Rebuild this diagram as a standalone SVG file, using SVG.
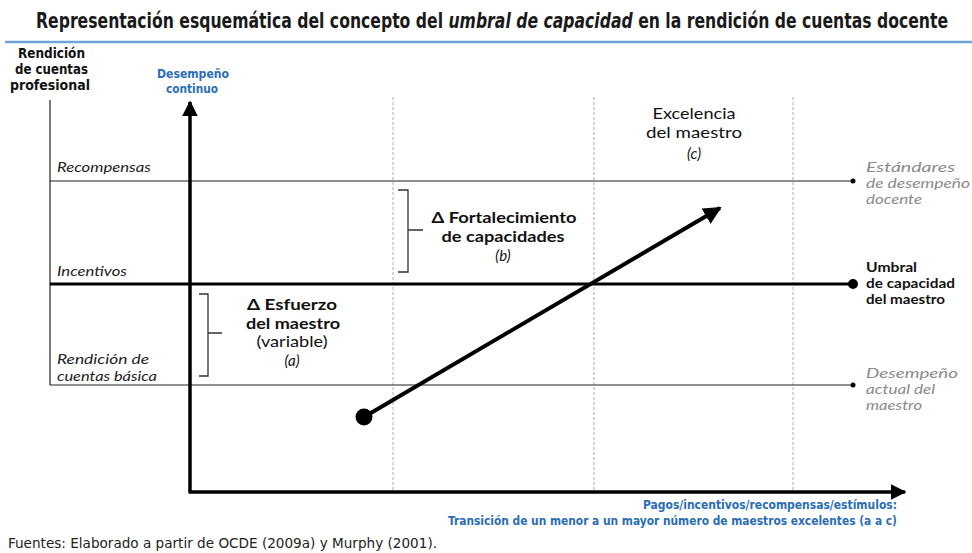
<svg xmlns="http://www.w3.org/2000/svg" width="972" height="553" viewBox="0 0 972 553">
<defs>
<style>
.cond{font-family:"Liberation Sans Narrow","DejaVu Sans Condensed","Liberation Sans",sans-serif;}
.hum{font-family:Lato,"Open Sans","DejaVu Sans",sans-serif;}
.title{font-size:21px;font-weight:bold;fill:#1a1a1a;}
.lbl{font-size:13.5px;font-weight:bold;fill:#111;}
.blue{font-size:12px;fill:#2a6db5;font-weight:bold;}
.itl{font-size:14px;font-style:italic;fill:#222;}
.gray{font-size:14px;font-style:italic;fill:#8a8a8a;}
.mid{font-size:15px;fill:#111;text-anchor:middle;}
.thin{stroke:#222;stroke-width:1.2;fill:none;}
.thick{stroke:#000;stroke-width:3.5;fill:none;}
.dash{stroke:#aaa;stroke-width:1;stroke-dasharray:3,2;fill:none;}
.brk{stroke:#333;stroke-width:1.3;fill:none;}
</style>
<marker id="ah" viewBox="0 0 10 10" refX="9" refY="5" markerWidth="4.5" markerHeight="4.5" orient="auto" markerUnits="strokeWidth">
<path d="M0,0 L10,5 L0,10 z" fill="#000"/>
</marker>
</defs>
<rect width="972" height="553" fill="#fff"/>
<g id="title" transform="translate(36,28) scale(0.843,1)">
<text class="cond title" x="0" y="0" textLength="1082" lengthAdjust="spacingAndGlyphs">Representación esquemática del concepto del <tspan font-style="italic">umbral de capacidad</tspan> en la rendición de cuentas docente</text>
</g>
<line x1="5" y1="42" x2="972" y2="42" stroke="#6fa3d6" stroke-width="2.5"/>

<g id="grid">
<line class="dash" x1="393" y1="97" x2="393" y2="490"/>
<line class="dash" x1="594" y1="97" x2="594" y2="490"/>
<line class="dash" x1="793" y1="97" x2="793" y2="490"/>
<line class="thin" x1="50" y1="100" x2="50" y2="385"/>
<line class="thin" x1="50" y1="181" x2="853" y2="181"/>
<line class="thin" x1="50" y1="385" x2="853" y2="385"/>
<line x1="50" y1="284" x2="853" y2="284" stroke="#000" stroke-width="3"/>
<circle cx="853" cy="181" r="2.5" fill="#000"/>
<circle cx="853" cy="385" r="2.5" fill="#000"/>
<circle cx="853" cy="284" r="5" fill="#000"/>
</g>

<g id="connectors">
<line class="thick" x1="190" y1="492" x2="190" y2="102" marker-end="url(#ah)"/>
<line class="thick" x1="188.5" y1="492" x2="905" y2="492" marker-end="url(#ah)"/>
<line x1="364" y1="417" x2="720" y2="208" stroke="#000" stroke-width="4" marker-end="url(#ah)"/>
<circle cx="364" cy="417" r="8.5" fill="#000"/>
</g>

<g id="brackets">
<path class="brk" d="M199,294 H208 V376 H199 M208,333 H222"/>
<path class="brk" d="M398,190 H408 V272 H398 M408,230 H423"/>
</g>

<g id="axis-y-label">
<text class="cond lbl" x="18" y="58" textLength="67" lengthAdjust="spacingAndGlyphs">Rendición</text>
<text class="cond lbl" x="15" y="74" textLength="73" lengthAdjust="spacingAndGlyphs">de cuentas</text>
<text class="cond lbl" x="10" y="90" textLength="80" lengthAdjust="spacingAndGlyphs">profesional</text>
<text class="cond blue" x="157" y="78" textLength="72" lengthAdjust="spacingAndGlyphs">Desempeño</text>
<text class="cond blue" x="166" y="93" textLength="52" lengthAdjust="spacingAndGlyphs">continuo</text>
</g>

<g id="left-labels">
<text class="hum itl" x="57" y="172" textLength="94" lengthAdjust="spacingAndGlyphs">Recompensas</text>
<text class="hum itl" x="57" y="276" textLength="70" lengthAdjust="spacingAndGlyphs">Incentivos</text>
<text class="hum itl" x="57" y="364" textLength="92" lengthAdjust="spacingAndGlyphs">Rendición de</text>
<text class="hum itl" x="57" y="381" textLength="100" lengthAdjust="spacingAndGlyphs">cuentas básica</text>
</g>

<g id="node-a">
<text class="hum mid" x="292" y="309.5" font-weight="bold" textLength="90" lengthAdjust="spacingAndGlyphs">Δ Esfuerzo</text>
<text class="hum mid" x="293" y="328.5" font-weight="bold" textLength="94" lengthAdjust="spacingAndGlyphs">del maestro</text>
<text class="hum mid" x="292" y="347" textLength="71" lengthAdjust="spacingAndGlyphs">(variable)</text>
<text class="hum mid" x="292" y="366" font-style="italic">(a)</text>
</g>

<g id="node-b">
<text class="hum mid" x="504" y="223" font-weight="bold" textLength="145" lengthAdjust="spacingAndGlyphs">Δ Fortalecimiento</text>
<text class="hum mid" x="503" y="242" font-weight="bold" textLength="123" lengthAdjust="spacingAndGlyphs">de capacidades</text>
<text class="hum mid" x="503" y="261" font-style="italic">(b)</text>
</g>

<g id="node-c">
<text class="hum mid" x="694" y="119" textLength="83" lengthAdjust="spacingAndGlyphs">Excelencia</text>
<text class="hum mid" x="694" y="138" textLength="96" lengthAdjust="spacingAndGlyphs">del maestro</text>
<text class="hum mid" x="694" y="159" font-style="italic">(c)</text>
</g>

<g id="right-labels">
<text class="hum gray" x="866" y="172" textLength="89" lengthAdjust="spacingAndGlyphs">Estándares</text>
<text class="hum gray" x="866" y="188" textLength="104" lengthAdjust="spacingAndGlyphs">de desempeño</text>
<text class="hum gray" x="866" y="204" textLength="56" lengthAdjust="spacingAndGlyphs">docente</text>
<text class="hum" x="866" y="272" font-size="14" font-weight="bold" fill="#111" textLength="51" lengthAdjust="spacingAndGlyphs">Umbral</text>
<text class="hum" x="866" y="288" font-size="14" font-weight="bold" fill="#111" textLength="89" lengthAdjust="spacingAndGlyphs">de capacidad</text>
<text class="hum" x="866" y="304" font-size="14" font-weight="bold" fill="#111" textLength="79" lengthAdjust="spacingAndGlyphs">del maestro</text>
<text class="hum gray" x="866" y="378" textLength="92" lengthAdjust="spacingAndGlyphs">Desempeño</text>
<text class="hum gray" x="866" y="394" textLength="69" lengthAdjust="spacingAndGlyphs">actual del</text>
<text class="hum gray" x="866" y="410" textLength="56" lengthAdjust="spacingAndGlyphs">maestro</text>
</g>

<g id="axis-x-label">
<text class="cond blue" x="643" y="509" textLength="254" lengthAdjust="spacingAndGlyphs">Pagos/incentivos/recompensas/estímulos:</text>
<text class="cond blue" x="448" y="525" textLength="449" lengthAdjust="spacingAndGlyphs">Transición de un menor a un mayor número de maestros excelentes (a a c)</text>
</g>

<text id="source" class="cond" x="8" y="548" font-size="14" fill="#222" textLength="429" lengthAdjust="spacingAndGlyphs">Fuentes: Elaborado a partir de OCDE (2009a) y Murphy (2001).</text>
</svg>
